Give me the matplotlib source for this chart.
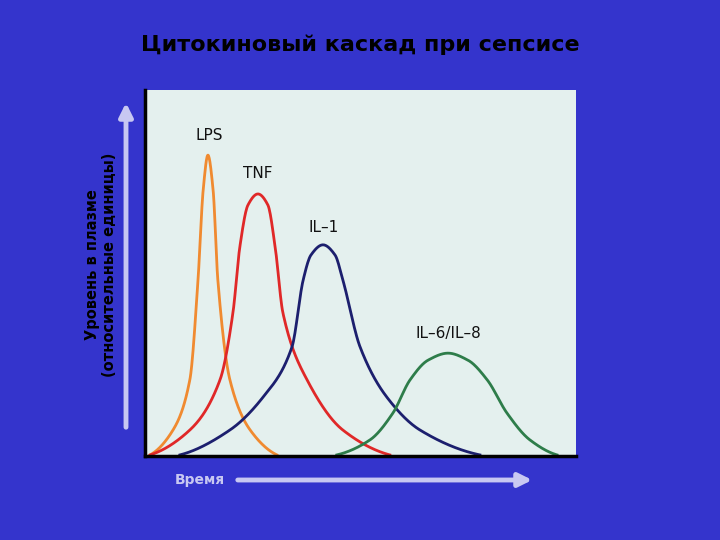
import numpy as np
import matplotlib
matplotlib.use("Agg")
import matplotlib.pyplot as plt

lps_t = [1.2, 6.5, 10.4, 12.3, 13.5, 14.6, 15.8, 16.9, 19.7, 24.4, 30.6]
lps_v = [0.3, 7.1, 20.8, 48.1, 72.7, 82.2, 72.7, 48.1, 20.8, 7.1, 0.3]
tnf_t = [1.2, 10.4, 17.4, 20.4, 22.0, 23.9, 26.2, 28.5, 30.2, 32.0, 37.6, 45.9, 56.8]
tnf_v = [0.3, 7.1, 20.8, 39.1, 57.1, 68.6, 71.6, 68.6, 57.1, 39.1, 20.8, 7.1, 0.3]
il1_t = [8.1, 19.7, 27.4, 34.1, 36.7, 38.5, 41.3, 44.1, 45.9, 49.9, 56.1, 63.8, 77.7]
il1_v = [0.3, 7.1, 16.1, 29.8, 48.1, 54.9, 57.7, 54.9, 48.1, 29.8, 16.1, 7.1, 0.3]
il6_t = [44.5, 52.2, 57.5, 61.5, 65.7, 70.3, 74.9, 79.4, 84.0, 89.3, 95.6]
il6_v = [0.3, 4.4, 11.7, 20.8, 26.2, 28.1, 26.2, 20.8, 11.7, 4.4, 0.3]
names = ["LPS", "TNF", "IL–1", "IL–6/IL–8"]
colors = ["#f08a30", "#e02828", "#1c1f6e", "#2e7d4a"]

def pchip(x, y, n=400):
    x = np.asarray(x, float); y = np.asarray(y, float)
    h = np.diff(x); d = np.diff(y) / h
    m = np.zeros_like(y)
    for k in range(1, len(x) - 1):
        if d[k-1] * d[k] > 0:
            w1 = 2*h[k] + h[k-1]; w2 = h[k] + 2*h[k-1]
            m[k] = (w1 + w2) / (w1/d[k-1] + w2/d[k])
    m[0] = d[0] * 0.5; m[-1] = d[-1] * 0.5
    xs = np.linspace(x[0], x[-1], n)
    idx = np.clip(np.searchsorted(x, xs) - 1, 0, len(h) - 1)
    t = (xs - x[idx]) / h[idx]
    h00 = 2*t**3 - 3*t**2 + 1; h10 = t**3 - 2*t**2 + t
    h01 = -2*t**3 + 3*t**2; h11 = t**3 - t**2
    ys = h00*y[idx] + h10*h[idx]*m[idx] + h01*y[idx+1] + h11*h[idx]*m[idx+1]
    return xs, np.clip(ys, 0, None)

fig = plt.figure(figsize=(7.2, 5.4), dpi=100, facecolor="#3434cc")
ax = fig.add_axes([145/720, 84/540, 431/720, 366/540])
ax.set_facecolor("#e4f0ee")
for (t, v), c in zip([(lps_t, lps_v), (tnf_t, tnf_v), (il1_t, il1_v), (il6_t, il6_v)], colors):
    sx, sy = pchip(t, v)
    ax.plot(sx, sy, color=c, lw=2)
ax.set_xlim(0, 100); ax.set_ylim(0, 100)
ax.set_xticks([]); ax.set_yticks([])
for s in ["top", "right"]:
    ax.spines[s].set_visible(False)
for s in ["left", "bottom"]:
    ax.spines[s].set_linewidth(2.5); ax.spines[s].set_color("black")
lab_pos = [(14.8, 85.5), (26.2, 75), (41.5, 60.5), (70.5, 31.5)]
for n, (x, y) in zip(names, lab_pos):
    ax.text(x, y, n, ha="center", va="bottom", fontsize=11, color="#111111")

fig.text(0.5, 1 - 45/540, "Цитокиновый каскад при сепсисе", ha="center", va="center",
         fontsize=16, fontweight="bold", color="black")
arrow_c = "#c8c8f2"
fig.add_artist(matplotlib.patches.FancyArrowPatch((126/720, 1-430/540), (126/720, 1-100/540),
               transform=fig.transFigure, arrowstyle="-|>,head_length=8,head_width=4",
               color=arrow_c, lw=3.5))
fig.add_artist(matplotlib.patches.FancyArrowPatch((235/720, 1-480/540), (535/720, 1-480/540),
               transform=fig.transFigure, arrowstyle="-|>,head_length=8,head_width=4",
               color=arrow_c, lw=3.5))
fig.text(101/720, 1-265/540, "Уровень в плазме\n(относительные единицы)", rotation=90,
         ha="center", va="center", fontsize=10.5, fontweight="bold", color="black", linespacing=1.1)
fig.text(200/720, 1-480/540, "Время", ha="center", va="center", fontsize=10,
         fontweight="bold", color=arrow_c)
fig.savefig("out.png", dpi=100, facecolor=fig.get_facecolor())
